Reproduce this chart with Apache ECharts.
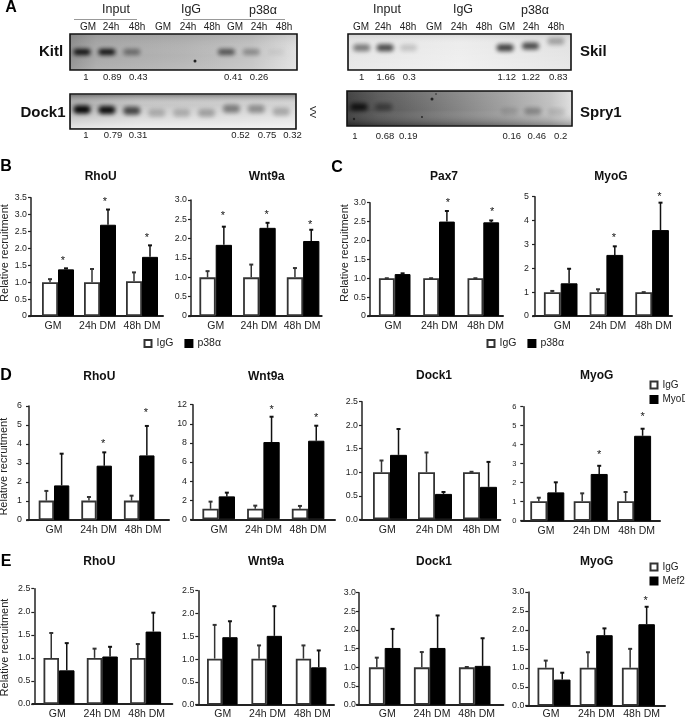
<!DOCTYPE html>
<html><head><meta charset="utf-8">
<style>html,body{margin:0;padding:0;background:#fff}#c{width:685px;height:717px}</style>
<script src="https://cdn.jsdelivr.net/npm/echarts@6/dist/echarts.min.js"></script>
</head><body><div id="c"></div>
<script>
// ---------- shared labels ----------
const conditions = ['GM', '24h DM', '48h DM'];
const lanes = ['GM', '24h', '48h', 'GM', '24h', '48h', 'GM', '24h', '48h'];
const ticks35 = ['0','0.5','1.0','1.5','2.0','2.5','3.0','3.5'];
const ticks30 = ['0','0.5','1.0','1.5','2.0','2.5','3.0'];
const ticks30z = ['0.0','0.5','1.0','1.5','2.0','2.5','3.0'];
const ticks25z = ['0.0','0.5','1.0','1.5','2.0','2.5'];
const ticks5 = ['0','1','2','3','4','5'];
const ticks6 = ['0','1','2','3','4','5','6'];
const ticks12 = ['0','2','4','6','8','10','12'];

// ---------- panel B ----------
const bRhoUIgG = [1, 1, 1.03];          const bRhoUIgGErr = [1.09, 1.39, 1.29];
const bRhoUP38 = [1.38, 2.70, 1.75];    const bRhoUP38Err = [1.41, 3.15, 2.09];
const bRhoUStars = [1.62, 3.36, 2.31];
const bWntIgG = [1, 1, 1];              const bWntIgGErr = [1.16, 1.33, 1.24];
const bWntP38 = [1.84, 2.28, 1.94];     const bWntP38Err = [2.31, 2.41, 2.23];
const bWntStars = [2.59, 2.62, 2.35];
// ---------- panel C ----------
const cPaxIgG = [1, 1, 1];              const cPaxIgGErr = [1, 1, 1];
const cPaxP38 = [1.11, 2.50, 2.48];     const cPaxP38Err = [1.13, 2.78, 2.53];
const cPaxStars = [null, 3.0, 2.76];
const cMyoIgG = [1, 1, 1];              const cMyoIgGErr = [1.05, 1.12, 1];
const cMyoP38 = [1.37, 2.56, 3.60];     const cMyoP38Err = [1.98, 2.92, 4.75];
const cMyoStars = [null, 3.26, 5.0];
// ---------- panel D ----------
const dRhoUIgG = [1.02, 1.02, 1.02];    const dRhoUIgGErr = [1.53, 1.21, 1.28];
const dRhoUMyoD = [1.82, 2.86, 3.40];   const dRhoUMyoDErr = [3.49, 3.56, 4.95];
const dRhoUStars = [null, 4.0, 5.62];
const dWntIgG = [1.1, 1.1, 1.1];        const dWntIgGErr = [1.85, 1.43, 1.40];
const dWntMyoD = [2.40, 8.09, 8.23];    const dWntMyoDErr = [2.79, 10.74, 9.80];
const dWntStars = [null, 11.5, 10.6];
const dDockIgG = [1, 1, 1];             const dDockIgGErr = [1.25, 1.42, 1.01];
const dDockMyoD = [1.37, 0.54, 0.69];   const dDockMyoDErr = [1.92, 0.58, 1.22];
const dMyoIgG = [1.02, 1.02, 1.02];     const dMyoIgGErr = [1.21, 1.44, 1.51];
const dMyoMyoD = [1.49, 2.46, 4.47];    const dMyoMyoDErr = [2.02, 2.89, 4.84];
const dMyoStars = [null, 3.46, 5.44];
// ---------- panel E ----------
const eRhoUIgG = [1, 1, 1];             const eRhoUIgGErr = [1.54, 1.20, 1.30];
const eRhoUMef2 = [0.73, 1.03, 1.57];   const eRhoUMef2Err = [1.32, 1.24, 1.98];
const eWntIgG = [1.01, 1.01, 1.01];     const eWntIgGErr = [1.75, 1.30, 1.30];
const eWntMef2 = [1.48, 1.51, 0.82];    const eWntMef2Err = [1.83, 2.16, 1.19];
const eDockIgG = [1, 1, 1];             const eDockIgGErr = [1.26, 1.41, 1.01];
const eDockMef2 = [1.52, 1.52, 1.04];   const eDockMef2Err = [2.03, 2.39, 1.78];
const eMyoIgG = [1, 1, 1];              const eMyoIgGErr = [1.19, 1.41, 1.50];
const eMyoMef2 = [0.69, 1.86, 2.15];    const eMyoMef2Err = [0.87, 2.04, 2.61];
const eMyoStars = [null, null, 2.77];

// ---------- blot band intensities and quantification labels ----------
const kitlBands = [0.95, 0.95, 0.42, 0, 0, 0, 0.6, 0.32, 0.06];
const dock1Bands = [1, 0.95, 0.68, 0.2, 0.2, 0.26, 0.42, 0.34, 0.24];
const skilBands = [0.48, 0.7, 0.16, 0, 0, 0, 0.75, 0.7, 0.3];
const spry1Bands = [0.85, 0.4, 0, 0, 0, 0, 0.12, 0.28, 0.12];
const kitlQuant = ['1', '0.89', '0.43', '0.41', '0.26'];
const dock1Quant = ['1', '0.79', '0.31', '0.52', '0.75', '0.32'];
const skilQuant = ['1', '1.66', '0.3', '1.12', '1.22', '0.83'];
const spry1Quant = ['1', '0.68', '0.19', '0.16', '0.46', '0.2'];

// ---------- layout (pixels) ----------
const panels = [
 {t:'RhoU', partner:'p38α', ig:bRhoUIgG, ie:bRhoUIgGErr, p:bRhoUP38, pe:bRhoUP38Err, st:bRhoUStars, ticks:ticks35, max:3.5, ax:31, x1:163, top:197.7, y0:316, c0:58, s:42, l0:53, ls:44.5, bw:16, tx:100.7, ty:177, dx:-3, ym:4},
 {t:'Wnt9a', partner:'p38α', ig:bWntIgG, ie:bWntIgGErr, p:bWntP38, pe:bWntP38Err, st:bWntStars, ticks:ticks30, max:3, ax:191, x1:321.7, top:200, y0:316, c0:215.7, s:43.7, l0:215.7, ls:43.2, bw:16.3, tx:266.7, ty:177, dx:-1, ym:4},
 {t:'Pax7', partner:'p38α', ig:cPaxIgG, ie:cPaxIgGErr, p:cPaxP38, pe:cPaxP38Err, st:cPaxStars, ticks:ticks30, max:3, ax:370, x1:503, top:202.7, y0:316, c0:394.7, s:44.3, l0:393, ls:46.3, bw:15.8, tx:444, ty:177, dx:1, ym:4},
 {t:'MyoG', partner:'p38α', ig:cMyoIgG, ie:cMyoIgGErr, p:cMyoP38, pe:cMyoP38Err, st:cMyoStars, ticks:ticks5, max:5, ax:535, x1:672, top:196.7, y0:316, c0:560.7, s:45.7, l0:562.3, ls:45.5, bw:16.8, tx:611, ty:177, dx:-1, ym:6},
 {t:'RhoU', partner:'MyoD', ig:dRhoUIgG, ie:dRhoUIgGErr, p:dRhoUMyoD, pe:dRhoUMyoDErr, st:dRhoUStars, ticks:ticks6, max:6, ax:29, x1:169, top:406, y0:520, c0:54, s:42.6, l0:54, ls:44.6, bw:15.3, tx:99.3, ty:376.7, dx:-1, ym:7},
 {t:'Wnt9a', partner:'MyoD', ig:dWntIgG, ie:dWntIgGErr, p:dWntMyoD, pe:dWntMyoDErr, st:dWntStars, ticks:ticks12, max:12, ax:193, x1:335, top:404.7, y0:519.3, c0:218.7, s:44.7, l0:219, ls:44.5, bw:16.3, tx:266, ty:376.7, dx:0, ym:6},
 {t:'Dock1', partner:'MyoD', ig:dDockIgG, ie:dDockIgGErr, p:dDockMyoD, pe:dDockMyoDErr, st:null, ticks:ticks25z, max:2.5, ax:362, x1:500.3, top:401.7, y0:519.3, c0:390, s:45, l0:387.3, ls:46.9, bw:17, tx:434, ty:376, dx:0, ym:4},
 {t:'MyoG', partner:'MyoD', ig:dMyoIgG, ie:dMyoIgGErr, p:dMyoMyoD, pe:dMyoMyoDErr, st:dMyoStars, ticks:ticks6, max:6, ax:523.3, x1:660, top:406.7, y0:520.7, c0:547.3, s:43.4, l0:546, ls:45.3, bw:17, tx:596.7, ty:376, dx:0, ym:7, yf:7.5},
 {t:'RhoU', partner:'Mef2', ig:eRhoUIgG, ie:eRhoUIgGErr, p:eRhoUMef2, pe:eRhoUMef2Err, st:null, ticks:ticks25z, max:2.5, ax:34.3, x1:172.3, top:588.7, y0:704, c0:59, s:43.3, l0:57.3, ls:44.7, bw:15.5, tx:99.3, ty:562, dx:0, ym:4, lm:5},
 {t:'Wnt9a', partner:'Mef2', ig:eWntIgG, ie:eWntIgGErr, p:eWntMef2, pe:eWntMef2Err, st:null, ticks:ticks25z, max:2.5, ax:198.3, x1:334, top:590.7, y0:704.7, c0:222.3, s:44.4, l0:222.7, ls:44.8, bw:15.3, tx:266, ty:562, dx:0, ym:4, lm:4},
 {t:'Dock1', partner:'Mef2', ig:eDockIgG, ie:eDockIgGErr, p:eDockMef2, pe:eDockMef2Err, st:null, ticks:ticks30z, max:3, ax:359, x1:503.3, top:592.7, y0:704.7, c0:384.7, s:45, l0:387.3, ls:44.7, bw:15.8, tx:434, ty:562, dx:0, ym:3, lm:4},
 {t:'MyoG', partner:'Mef2', ig:eMyoIgG, ie:eMyoIgGErr, p:eMyoMef2, pe:eMyoMef2Err, st:eMyoStars, ticks:ticks30z, max:3, ax:528.3, x1:665, top:592, y0:705.7, c0:554, s:42.2, l0:551, ls:45.3, bw:16.5, tx:596.7, ty:562, dx:-1, ym:4, lm:3}
];
const blots = [
 {name:'Kitl', bands:kitlBands, fx:70, fy:34, fw:227, fh:36, lane0:82, ls:24.9, laneDx:[0,0,0,0,0,0,-5,-5,-5], ys:[.5,.5,.5,.5,.5,.5,.5,.5,.5], bw:17, bh:6,
  stops:[[0,'#8e8e8e'],[.12,'#a8a8a8'],[.5,'#b4b4b4'],[.8,'#c4c4c4'],[1,'#e2e2e2']], over:[[0,'rgba(60,60,60,.12)'],[.6,'rgba(255,255,255,0)'],[1,'rgba(255,255,255,.1)']],
  quant:kitlQuant, qx:[86,112.3,138.3,233.3,259], qy:77.7, nameX:51, nameAlign:'center', nameY:52},
 {name:'Dock1', bands:dock1Bands, fx:70, fy:94, fw:226, fh:35, lane0:82, ls:24.9, laneDx:[0,0,0,0,0,0,0,0,0], ys:[.44,.46,.48,.54,.54,.54,.42,.43,.51], bw:17, bh:8,
  stops:[[0,'#a8a8a8'],[.3,'#c4c4c4'],[.7,'#cccccc'],[1,'#d4d4d4']], over:[[0,'rgba(40,40,40,.38)'],[.3,'rgba(255,255,255,0)'],[1,'rgba(255,255,255,.7)']],
  quant:dock1Quant, qx:[86,113,138,240.6,267,292.5], qy:135.3, nameX:43, nameAlign:'center', nameY:113},
 {name:'Skil', bands:skilBands, fx:348, fy:34, fw:223, fh:36, lane0:361.7, ls:24.4, laneDx:[0,-1,-2,0,0,0,-3,-2,-1], ys:[.38,.38,.38,.38,.38,.38,.38,.33,.2], bw:17, bh:7,
  stops:[[0,'#e4e4e4'],[.5,'#ededed'],[1,'#e2e2e2']], over:[[0,'rgba(100,100,100,.12)'],[.3,'rgba(255,255,255,0)'],[1,'rgba(255,255,255,.2)']],
  quant:skilQuant, qx:[361.7,385.7,409.3,506.7,530.7,558.3], qy:77.7, nameX:580, nameAlign:'left', nameY:52},
 {name:'Spry1', bands:spry1Bands, fx:347, fy:91, fw:225, fh:35, lane0:359, ls:24.7, laneDx:[0,0,0,0,0,0,2,1,0], ys:[.46,.46,.46,.46,.46,.46,.58,.58,.6], bw:17, bh:7,
  stops:[[0,'#3a3a3a'],[.14,'#565656'],[.4,'#787878'],[.7,'#a0a0a0'],[.9,'#c0c0c0'],[1,'#e0e0e0']], over:[[0,'rgba(255,255,255,.06)'],[.55,'rgba(255,255,255,0)'],[1,'rgba(0,0,0,.28)']],
  quant:spry1Quant, qx:[355,385,408.3,511.7,536.7,560.7], qy:136, nameX:580, nameAlign:'left', nameY:113}
];
const laneLabelX = [[88,111,137,163,188,212,235,259,284],[361,383,408,434,459,484,507,531,556]];
const laneLabelY = 27;
const groupHeads = [['Input',116,10],['IgG',191,10],['p38α',263,11],['Input',387,10],['IgG',463,10],['p38α',535,11]];
const groupRules = [[74,137],[183,285]];
const panelLetters = [['A',11,8],['B',6,167],['C',337,168],['D',6,376],['E',6,562]];
const yNames = [[5,253],[345,253],[4,466.7],[4.5,647.5]];
const specks = [[195,61,1.5],[432,99,1.5],[436,94,.8],[354,119,1.2],[422,117,.9]];
const FONT = '"Liberation Sans", Arial, sans-serif';
const INK = '#222';

// ---------- builders ----------
const grid = [], xAxis = [], yAxis = [], series = [], title = [], graphic = [];

function errRender(side, color) {
  return function (params, api) {
    const base = api.coord([api.value(0), api.value(1)]);
    const top = api.coord([api.value(0), api.value(2)]);
    const x = base[0] + side * api.value(3) / 2;
    return {type:'group', children:[
      {type:'line', shape:{x1:x, y1:base[1], x2:x, y2:top[1]}, style:{stroke:color, lineWidth:1.5}},
      {type:'line', shape:{x1:x-2, y1:top[1], x2:x+2, y2:top[1]}, style:{stroke:color, lineWidth:2}}
    ]};
  };
}
function starRender(params, api) {
  const pt = api.coord([api.value(0), api.value(1)]);
  return {type:'text', x:pt[0] + api.value(2), y:pt[1],
    style:{text:'*', font:'11px ' + FONT, fill:'#111', align:'center', verticalAlign:'middle'}};
}
// Each band is a soft blot: only the blurred shadow of the shape falls inside the frame.
const SHIFT = 1500;
function bandRender(params, api) {
  const pt = api.coord([api.value(0), api.value(1)]);
  const a = api.value(2), w = api.value(4), h = api.value(5);
  return {type:'rect', shape:{x:pt[0] + api.value(3) - w/2 - SHIFT, y:pt[1] - h/2, width:w, height:h, r:h/2},
    style:{fill:'#000', shadowBlur:4, shadowOffsetX:SHIFT, shadowColor:'rgba(5,5,5,' + a + ')'}};
}

panels.forEach(function (p, k) {
  const base = 3 * k;
  const h = p.y0 - p.top;
  const xl = p.ax - 2;
  // axes grid
  grid.push({left:xl, width:p.x1 - xl, top:p.top, height:h, outerBoundsMode:'none'});
  xAxis.push({type:'category', gridIndex:base, data:conditions, axisTick:{show:false}, axisLabel:{show:false},
    axisLine:{show:true, onZero:false, lineStyle:{color:INK, width:2}}});
  yAxis.push({type:'value', gridIndex:base, min:0, max:p.max, interval:p.max/(p.ticks.length-1), offset:-2, splitLine:{show:false},
    axisLine:{show:true, lineStyle:{color:INK, width:1.5}}, axisTick:{show:true, length:3, lineStyle:{color:INK, width:1.2}},
    axisLabel:{margin:p.ym, color:INK, fontFamily:FONT, fontSize:p.yf||8.8, formatter:(v,i)=>p.ticks[i]}});
  // bars grid
  grid.push({left:p.c0 - p.s/2, width:3*p.s, top:p.top, height:h, outerBoundsMode:'none'});
  xAxis.push({type:'category', gridIndex:base+1, data:conditions, show:false});
  yAxis.push({type:'value', gridIndex:base+1, min:0, max:p.max, show:false});
  // category-label grid
  grid.push({left:p.l0 - p.ls/2, width:3*p.ls, top:p.top, height:h, outerBoundsMode:'none'});
  xAxis.push({type:'category', gridIndex:base+2, data:conditions, axisLine:{show:false}, axisTick:{show:false},
    axisLabel:{margin:p.lm||5, interval:0, color:INK, fontFamily:FONT, fontSize:10.5}});
  yAxis.push({type:'value', gridIndex:base+2, min:0, max:p.max, show:false});

  const ax = {xAxisIndex:base+1, yAxisIndex:base+1};
  series.push(Object.assign({type:'bar', name:'IgG', data:p.ig, barWidth:p.bw, barGap:'0%', silent:true,
    itemStyle:{color:'#fff', borderColor:'#333', borderWidth:1.8}}, ax));
  series.push(Object.assign({type:'bar', name:p.partner, data:p.p, barWidth:p.bw, barGap:'0%', silent:true,
    itemStyle:{color:'#000', borderColor:'#000', borderWidth:1}}, ax));
  series.push(Object.assign({type:'custom', name:'IgG error', renderItem:errRender(-1,'#333'), silent:true, z:1,
    data:p.ig.map((v,i)=>[i,v,p.ie[i],p.bw]), encode:{x:0,y:2}}, ax));
  series.push(Object.assign({type:'custom', name:p.partner + ' error', renderItem:errRender(1,'#111'), silent:true, z:1,
    data:p.p.map((v,i)=>[i,v,p.pe[i],p.bw]), encode:{x:0,y:2}}, ax));
  if (p.st) {
    series.push(Object.assign({type:'custom', name:'significance', renderItem:starRender, silent:true,
      data:p.st.map((v,i)=>[i,v,p.bw/2 + p.dx]).filter(d=>d[1]!==null), encode:{x:0,y:1}}, ax));
  }
  title.push({text:p.t, left:p.tx, top:p.ty - 7, textAlign:'center', padding:0,
    textStyle:{fontFamily:FONT, fontSize:12, fontWeight:'bold', color:'#111', lineHeight:14}});
});

function txt(x, y, s, size, extra) {
  graphic.push(Object.assign({type:'text', x:x, y:y, silent:true,
    style:Object.assign({text:s, font:(extra&&extra.weight||'normal') + ' ' + size + 'px ' + FONT, fill:INK, align:'center', verticalAlign:'middle'}, extra&&extra.style)}, extra&&extra.el));
}
function gradient(stops, vertical) {
  return new echarts.graphic.LinearGradient(0, 0, vertical?0:1, vertical?1:0, stops.map(s=>({offset:s[0], color:s[1]})));
}

blots.forEach(function (b) {
  const idx = grid.length;
  graphic.push({type:'rect', z:0, silent:true, shape:{x:b.fx, y:b.fy, width:b.fw, height:b.fh}, style:{fill:gradient(b.stops,false), stroke:'#111', lineWidth:1.6}});
  graphic.push({type:'rect', z:0, silent:true, shape:{x:b.fx+1, y:b.fy+1, width:b.fw-2, height:b.fh-2}, style:{fill:gradient(b.over,true)}});
  grid.push({left:b.lane0 - b.ls/2, width:9*b.ls, top:b.fy, height:b.fh, outerBoundsMode:'none'});
  xAxis.push({type:'category', gridIndex:idx, data:lanes, show:false});
  yAxis.push({type:'value', gridIndex:idx, min:0, max:1, inverse:true, show:false});
  series.push({type:'custom', name:b.name + ' bands', xAxisIndex:idx, yAxisIndex:idx, renderItem:bandRender, silent:true,
    data:b.bands.map((v,i)=>[i,b.ys[i],v,b.laneDx[i],b.bw,b.bh]).filter(d=>d[2]>0), encode:{x:0,y:1}});
  b.quant.forEach((q,i)=>txt(b.qx[i], b.qy, q, 9.5));
  txt(b.nameX, b.nameY, b.name, 15, {weight:'bold', style:{align:b.nameAlign, fill:'#111'}});
});
laneLabelX.forEach(xs=>xs.forEach((x,i)=>txt(x, laneLabelY, lanes[i], 10)));
groupHeads.forEach(g=>txt(g[1], g[2], g[0], 12.5));
groupRules.forEach(r=>graphic.push({type:'line', silent:true, shape:{x1:r[0], y1:19.5, x2:r[1], y2:19.5}, style:{stroke:'#999', lineWidth:1}}));
panelLetters.forEach(l=>txt(l[1], l[2], l[0], 16, {weight:'bold', style:{fill:'#000'}}));
yNames.forEach(n=>txt(n[0], n[1], 'Relative recruitment', 11, {el:{rotation:Math.PI/2}}));
txt(312, 112, 'VV', 9, {el:{rotation:-Math.PI/2}});
specks.forEach(s=>graphic.push({type:'circle', silent:true, z:5, shape:{cx:s[0], cy:s[1], r:s[2]}, style:{fill:'#222'}}));

const legendBase = {icon:'rect', itemWidth:7, itemHeight:7, selectedMode:false, padding:0};
const legendText = {fontFamily:FONT, fontSize:10.5, color:INK};
const legendTextSmall = {fontFamily:FONT, fontSize:10, color:INK};
const legend = [
 Object.assign({data:['IgG','p38α'], left:143.5, top:338, orient:'horizontal', itemGap:11, textStyle:legendText}, legendBase),
 Object.assign({data:['IgG','p38α'], left:486.5, top:338, orient:'horizontal', itemGap:11, textStyle:legendText}, legendBase),
 Object.assign({data:['IgG','MyoD'], left:649.5, top:380, orient:'vertical', itemGap:4.5, textStyle:legendTextSmall}, legendBase),
 Object.assign({data:['IgG','Mef2'], left:649.5, top:562, orient:'vertical', itemGap:4, textStyle:legendTextSmall}, legendBase)
];

const chart = echarts.init(document.getElementById('c'), null, {renderer:'canvas'});
chart.setOption({animation:false, backgroundColor:'#fff', title, grid, xAxis, yAxis, series, legend, graphic:{elements:graphic}, tooltip:{show:false}});
</script></body></html>
